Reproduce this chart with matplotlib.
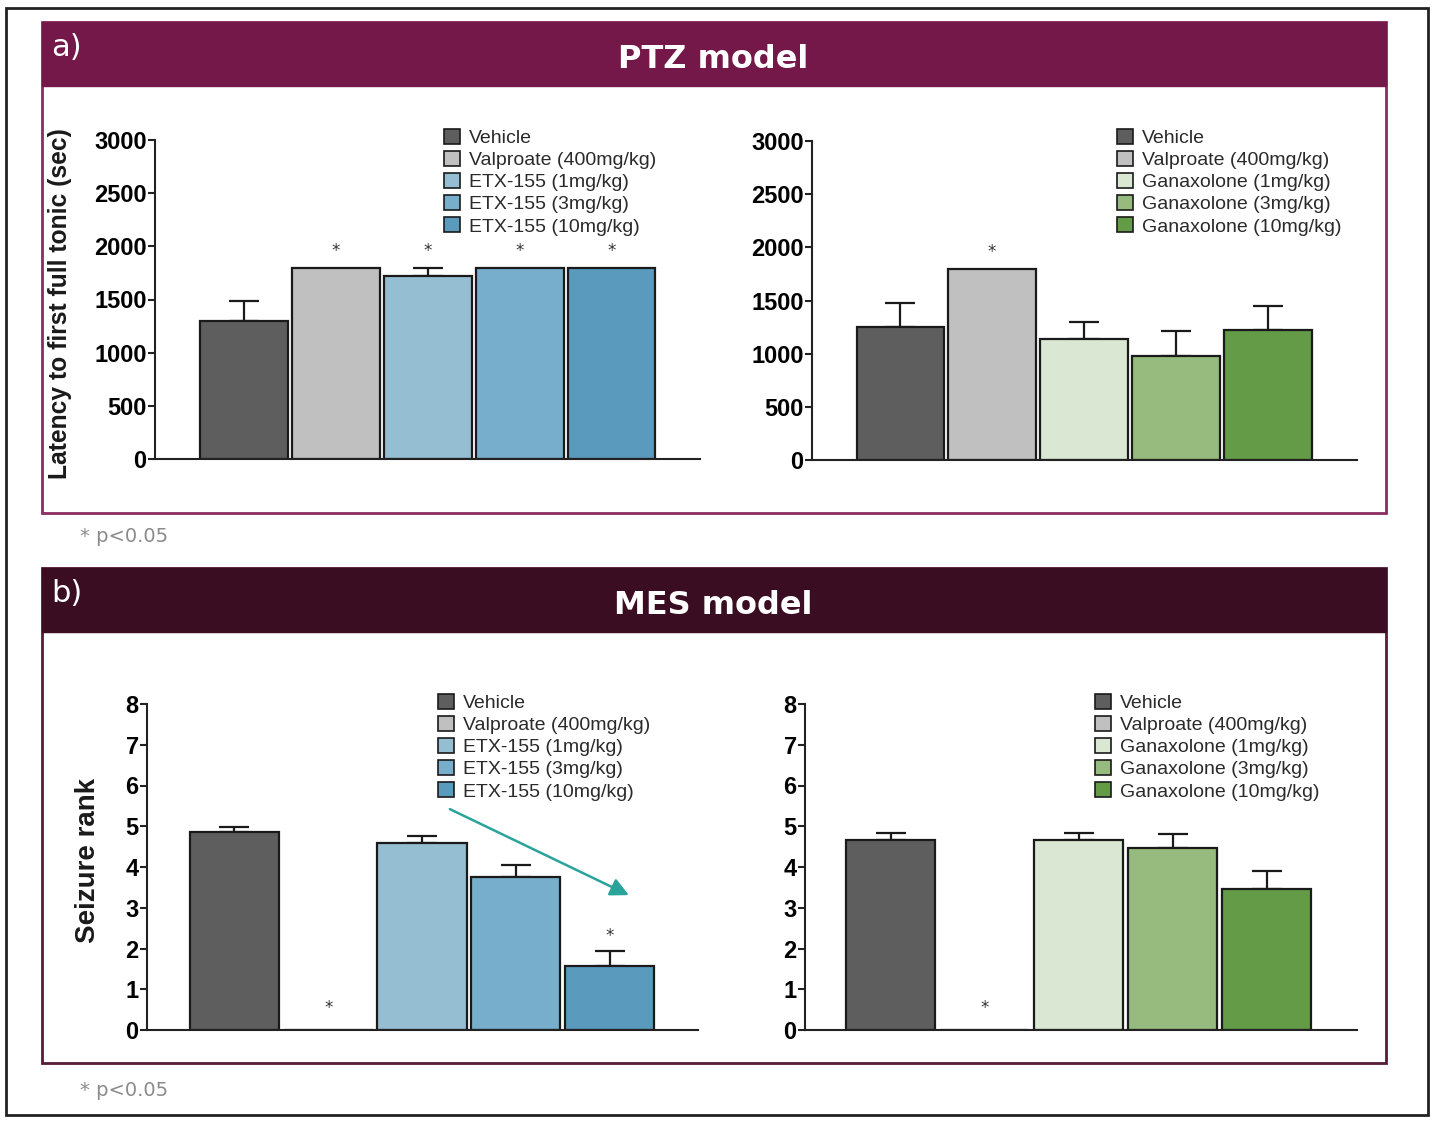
import matplotlib
matplotlib.use("Agg")
import matplotlib.pyplot as plt
from matplotlib.patches import Rectangle, Patch

# -----------------------------
# Data
# -----------------------------
etx_groups = ["Vehicle", "Valproate (400mg/kg)", "ETX-155 (1mg/kg)",
              "ETX-155 (3mg/kg)", "ETX-155 (10mg/kg)"]
gan_groups = ["Vehicle", "Valproate (400mg/kg)", "Ganaxolone (1mg/kg)",
              "Ganaxolone (3mg/kg)", "Ganaxolone (10mg/kg)"]

etx_colors = ["#5e5e5e", "#c0c0c0", "#96bed3", "#77aecb", "#5a9bbd"]
gan_colors = ["#5e5e5e", "#c0c0c0", "#dae8d3", "#97bb7f", "#649b46"]

# PTZ model: latency to first full tonic (sec)
ptz_etx_mean = [1300, 1800, 1720, 1800, 1800]
ptz_etx_sem = [190, 0, 80, 0, 0]
ptz_etx_star = [False, True, True, True, True]

ptz_gan_mean = [1250, 1800, 1140, 975, 1220]
ptz_gan_sem = [230, 0, 160, 235, 225]
ptz_gan_star = [False, True, False, False, False]

# MES model: seizure rank
mes_etx_mean = [4.87, 0, 4.58, 3.76, 1.58]
mes_etx_sem = [0.12, 0, 0.17, 0.28, 0.35]
mes_etx_star = [False, True, False, False, True]

mes_gan_mean = [4.66, 0, 4.66, 4.46, 3.47]
mes_gan_sem = [0.18, 0, 0.18, 0.34, 0.42]
mes_gan_star = [False, True, False, False, False]

W, H = 1435, 1123
fig = plt.figure(figsize=(W / 100, H / 100), dpi=100)
fig.patch.set_facecolor("white")


def fx(px):
    return px / W


def fy(py):
    return 1 - py / H


def frect(x0, y0, x1, y1, **kw):
    r = Rectangle((fx(x0), fy(y1)), fx(x1) - fx(x0), fy(y0) - fy(y1),
                  transform=fig.transFigure, **kw)
    fig.patches.append(r)


# outer border
frect(6, 8, 1428, 1115, fill=False, edgecolor="#222222", linewidth=2)

# -----------------------------
# Panel frames / headers
# -----------------------------
panels = [
    (22, 513, 86, "#731848", "#8b2d60", "a)", "PTZ model", 536),
    (568, 1063, 632, "#3a0d23", "#5a1a3a", "b)", "MES model", 1090),
]
for top, bottom, hb, hcol, bcol, tag, title, py in panels:
    frect(42, top, 1386, bottom, fill=False, edgecolor=bcol, linewidth=2)
    frect(42, top, 1386, hb, facecolor=hcol, edgecolor=hcol, linewidth=1)
    fig.text(fx(51), fy((top + hb) / 2 - 6), tag, color="white", fontsize=22,
             family="DejaVu Sans", va="center", ha="left")
    fig.text(fx(713), fy((top + hb) / 2 + 5), title, color="white", fontsize=23,
             family="DejaVu Sans", weight="bold", va="center", ha="center")
    fig.text(fx(80), fy(py), "* p<0.05", color="#8a8a8a", fontsize=14,
             family="DejaVu Sans", va="center", ha="left")


def bar_axes(l, t, r, b, xlo, xhi, ymax, yticks, means, sems, stars, colors,
             labels, star_y, leg_x, leg_y, ylabel=None, ylabel_x=None,
             ylabel_size=17, ylabel_y=None):
    ax = fig.add_axes([fx(l), fy(b), fx(r) - fx(l), fy(t) - fy(b)])
    ax.set_facecolor("none")
    xs = list(range(len(means)))
    ax.bar(xs, means, width=0.95, color=colors, edgecolor="#1a1a1a",
           linewidth=1.6, zorder=2)
    for x, m, s in zip(xs, means, sems):
        if s > 0:
            ax.errorbar(x, m, yerr=[[0], [s]], fmt="none", ecolor="#1a1a1a",
                        elinewidth=1.6, capsize=11, capthick=1.6, zorder=1)
    for x, st in zip(xs, stars):
        if st:
            yy = star_y[x] if isinstance(star_y, (list, tuple)) else star_y
            ax.text(x, yy, "*", ha="center", va="center", fontsize=12,
                    color="#333333")
    ax.set_xlim(xlo, xhi)
    ax.set_ylim(0, ymax)
    ax.set_yticks(yticks)
    ax.set_yticklabels([str(v) for v in yticks], fontsize=17, weight="bold",
                       family="Liberation Sans")
    ax.set_xticks([])
    for sp in ["top", "right"]:
        ax.spines[sp].set_visible(False)
    for sp in ["left", "bottom"]:
        ax.spines[sp].set_linewidth(1.5)
        ax.spines[sp].set_color("#222222")
    ax.tick_params(axis="y", length=5, width=1.5, pad=1, color="#222222")
    handles = [Patch(facecolor=c, edgecolor="#1a1a1a", linewidth=1.2)
               for c in colors]
    ax.legend(handles, labels, loc="upper left",
              bbox_to_anchor=(fx(leg_x), fy(leg_y)),
              bbox_transform=fig.transFigure, frameon=False,
              prop={"family": "Liberation Sans", "size": 14},
              handlelength=0.8, handleheight=0.8, handletextpad=0.5,
              labelspacing=0.2, borderaxespad=0, borderpad=0,
              labelcolor="#2a2a2a")
    if ylabel:
        yc = ylabel_y if ylabel_y is not None else (t + b) / 2
        fig.text(fx(ylabel_x), fy(yc), ylabel, rotation=90,
                 ha="center", va="center", fontsize=ylabel_size, weight="bold",
                 family="Liberation Sans", color="#1a1a1a")
    return ax


# -----------------------------
# a) PTZ model
# -----------------------------
bar_axes(155, 140, 700, 459, -0.97, 4.96, 3000, [0, 500, 1000, 1500, 2000, 2500, 3000],
         ptz_etx_mean, ptz_etx_sem, ptz_etx_star, etx_colors, etx_groups,
         1960, 444, 129, "Latency to first full tonic (sec)", 60, 17.7, 304)
bar_axes(812, 141, 1357, 460, -0.96, 4.97, 3000, [0, 500, 1000, 1500, 2000, 2500, 3000],
         ptz_gan_mean, ptz_gan_sem, ptz_gan_star, gan_colors, gan_groups,
         1960, 1117, 129)

# -----------------------------
# b) MES model
# -----------------------------
ax3 = bar_axes(147, 704, 698, 1030, -0.93, 4.94, 8, list(range(9)),
               mes_etx_mean, mes_etx_sem, mes_etx_star, etx_colors, etx_groups,
               [0, 0.55, 0, 0, 2.3], 438, 694, "Seizure rank", 88, 20, 860)
bar_axes(805, 704, 1357, 1030, -0.91, 4.96, 8, list(range(9)),
         mes_gan_mean, mes_gan_sem, mes_gan_star, gan_colors, gan_groups,
         0.55, 1095, 694)

# trend arrow on ETX-155 MES
ax3.annotate("", xy=(4.23, 3.28), xytext=(2.27, 5.45), annotation_clip=False,
             arrowprops=dict(arrowstyle="-|>,head_length=1.1,head_width=0.55",
                             color="#2aa39b", lw=1.8))

fig.savefig("out.png", dpi=100)
